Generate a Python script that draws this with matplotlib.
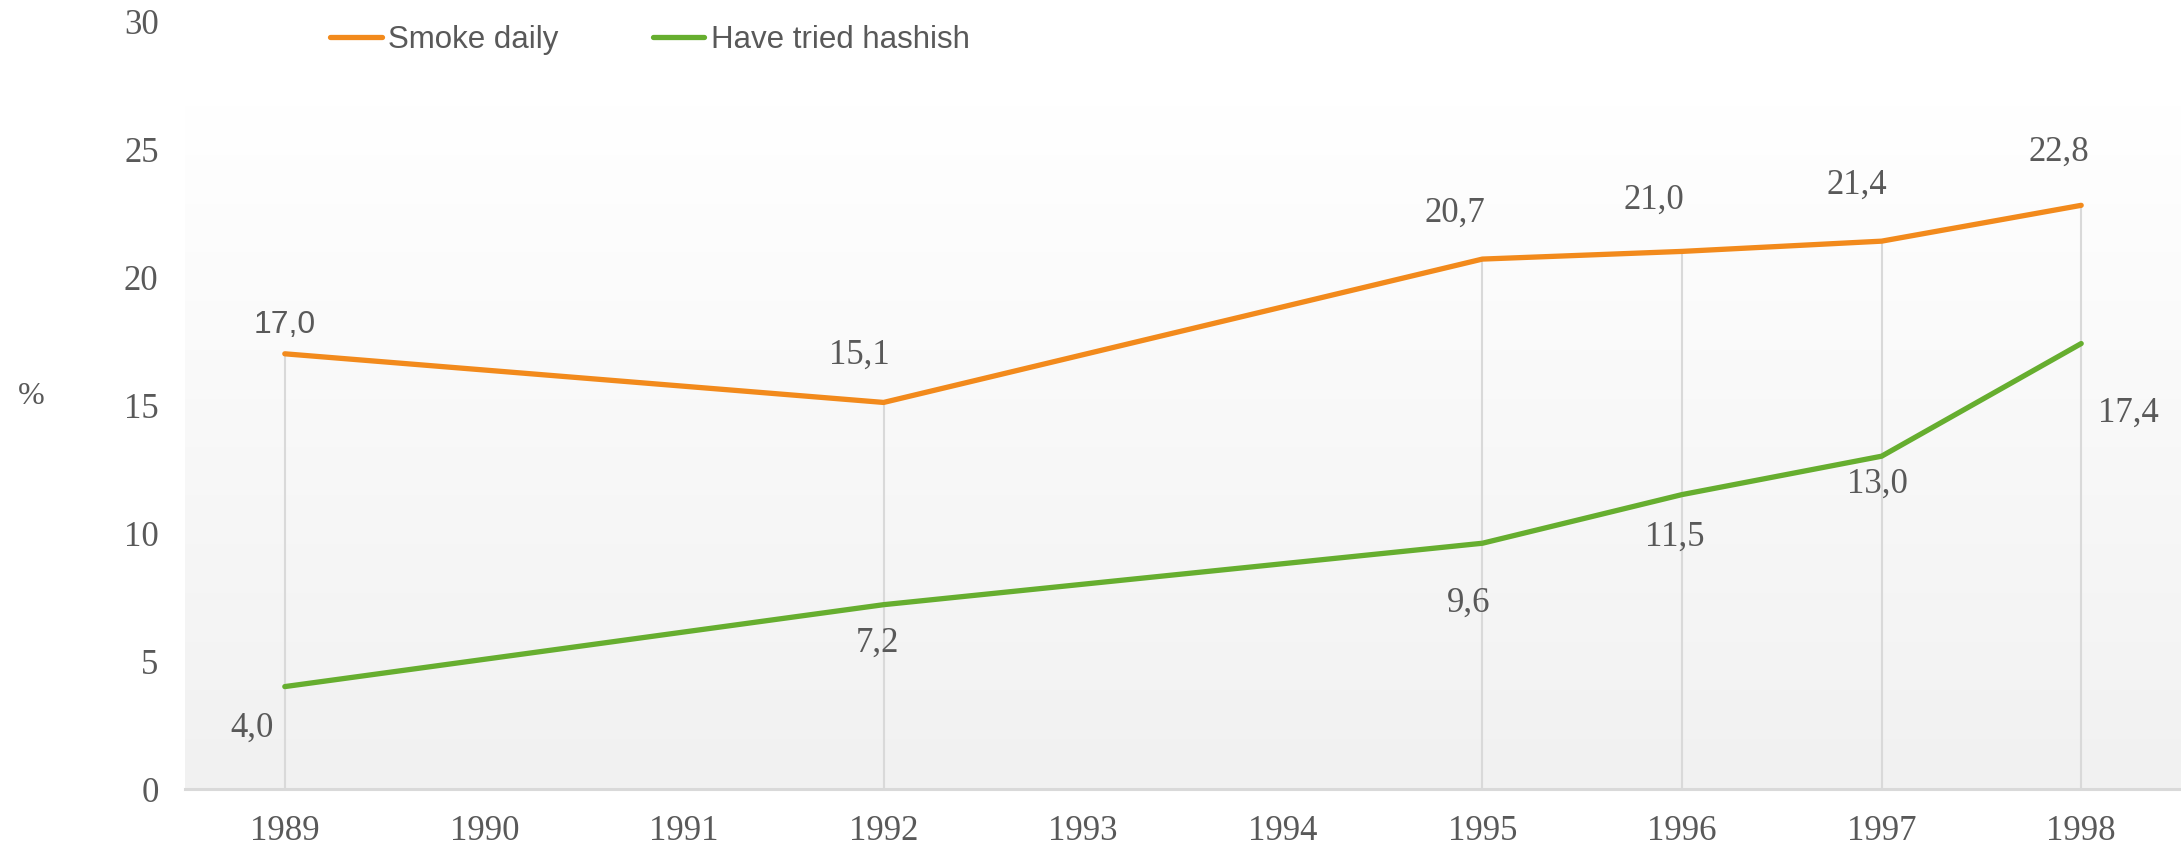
import numpy as np
import matplotlib
matplotlib.use("Agg")
from matplotlib import pyplot as plt

years = ['1989', '1990', '1991', '1992', '1993', '1994', '1995', '1996', '1997', '1998']
data_years = ['1989', '1992', '1995', '1996', '1997', '1998']
smoke = [17.0, 15.1, 20.7, 21.0, 21.4, 22.8]
hashish = [4.0, 7.2, 9.6, 11.5, 13.0, 17.4]
series_names = ['Smoke daily', 'Have tried hashish']

orange = '#F28A1C'
green = '#66AE2F'
grey_txt = '#595959'
serif = 'Liberation Serif'
sans = 'Liberation Sans'

fig = plt.figure(figsize=(21.81, 8.46), dpi=100)
ax = fig.add_axes([185 / 2181, 1 - 789 / 846, 1 - 185 / 2181, (789 - 21) / 846])

x = [years.index(y) for y in data_years]

# plot area gradient (white top -> light grey bottom)
grad = np.linspace(1.0, 0.0, 256).reshape(-1, 1)
ax.imshow(grad, extent=(-0.5, 9.5, 0, 26.7), aspect='auto', origin='upper',
          cmap=matplotlib.colors.LinearSegmentedColormap.from_list('g', ['#F1F1F1', '#FFFFFF']),
          vmin=0, vmax=1, zorder=0)

# drop lines
top = np.maximum(smoke, hashish)
ax.vlines(x, 0, top, color='#D9D9D9', lw=1.5, zorder=1)

l1, = ax.plot(x, smoke, color=orange, lw=3.8, solid_capstyle='round', zorder=3, label=series_names[0])
l2, = ax.plot(x, hashish, color=green, lw=3.8, solid_capstyle='round', zorder=3, label=series_names[1])

ax.set_xlim(-0.5, 9.5)
ax.set_ylim(0, 30)
ax.set_xticks(range(len(years)))
ax.set_xticklabels(years)
ax.set_yticks([0, 5, 10, 15, 20, 25, 30])
ax.tick_params(length=0, labelsize=25, labelcolor=grey_txt)
ax.tick_params(axis='x', pad=19)
ax.tick_params(axis='y', pad=19)
for t in ax.get_xticklabels() + ax.get_yticklabels():
    t.set_fontfamily(serif)

for s in ['top', 'right', 'left']:
    ax.spines[s].set_visible(False)
ax.spines['bottom'].set_color('#D9D9D9')
ax.spines['bottom'].set_linewidth(2.2)
ax.set_facecolor('white')

smoke_off = [(0, 29), (-24, 47), (-28, 46), (-28, 51), (-25, 56), (-22, 53)]
hash_off = [(-33, -42), (-6, -39), (-14, -60), (-7, -43), (-4, -28), (47, -70)]

for i in range(len(x)):
    fam = sans if i == 0 else serif
    ax.annotate(f'{smoke[i]:.1f}'.replace('.', ','), (x[i], smoke[i]), xytext=smoke_off[i],
                textcoords='offset pixels', ha='center', va='center', fontsize=25 if i else 23,
                color=grey_txt, family=fam, zorder=4)
    ax.annotate(f'{hashish[i]:.1f}'.replace('.', ','), (x[i], hashish[i]), xytext=hash_off[i],
                textcoords='offset pixels', ha='center', va='center', fontsize=25,
                color=grey_txt, family=serif, zorder=4)

fig.text(31 / 2181, 1 - 396 / 846, '%', fontsize=23, color=grey_txt, family=serif,
         ha='center', va='center')

leg = fig.legend(handles=[l1, l2], loc='center left', bbox_to_anchor=(330 / 2181, 1 - 40 / 846),
                 ncol=2, frameon=False, borderpad=0, borderaxespad=0, handlelength=1.65,
                 handletextpad=0.22, columnspacing=3.0, prop={'family': sans, 'size': 22.5})
for t in leg.get_texts():
    t.set_color(grey_txt)

fig.savefig('out.png', dpi=100)
